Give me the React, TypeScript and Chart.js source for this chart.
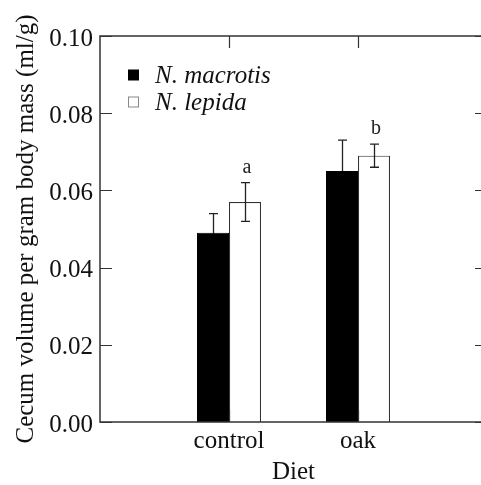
import React, { useEffect, useRef } from "react";
import { Chart, registerables } from "chart.js";

Chart.register(...registerables);

const categories = ["", "control", "oak", ""];
const macrotisValues = [null, 0.049, 0.065, null];
const lepidaValues = [null, 0.057, 0.069, null];
const macrotisErrors = [null, 0.005, 0.008, null];
const lepidaErrors = [null, 0.005, 0.003, null];
const lepidaLetters = [null, "a", "b", null];
const yMin = 0;
const yMax = 0.1;
const yStep = 0.02;

const SERIF = "'Liberation Serif', 'Times New Roman', serif";
const INK = "#222";

function drawErrors(chart: any, di: number) {
  const ctx = chart.ctx;
  const yScale = chart.scales.y;
  const errs = [macrotisErrors, lepidaErrors];
  const vals = [macrotisValues, lepidaValues];
  const meta = chart.getDatasetMeta(di);
  ctx.save();
  ctx.strokeStyle = INK;
  ctx.lineWidth = 1.3;
  meta.data.forEach((el: any, i: number) => {
    const v = vals[di][i];
    const e = errs[di][i];
    if (v == null || e == null) return;
    const x = Math.round(el.x) + 0.5;
    const yt = yScale.getPixelForValue(v + e);
    const yb = yScale.getPixelForValue(v - e);
    ctx.beginPath();
    ctx.moveTo(x, yt);
    ctx.lineTo(x, yb);
    ctx.moveTo(x - 4.5, yt);
    ctx.lineTo(x + 4.5, yt);
    ctx.moveTo(x - 4.5, yb);
    ctx.lineTo(x + 4.5, yb);
    ctx.stroke();
    if (di === 1 && lepidaLetters[i]) {
      ctx.fillStyle = INK;
      ctx.font = `20px ${SERIF}`;
      ctx.textAlign = "center";
      ctx.textBaseline = "alphabetic";
      ctx.fillText(lepidaLetters[i] as string, el.x + 2, yt - 10);
    }
  });
  ctx.restore();
}

const errorPlugin = {
  id: "errorBars",
  beforeDatasetsDraw(chart: any) {
    drawErrors(chart, 0);
  },
  afterDatasetsDraw(chart: any) {
    drawErrors(chart, 1);
  },
  afterDraw(chart: any) {
    const ctx = chart.ctx;
    const { left, right, top, bottom } = chart.chartArea;
    const yScale = chart.scales.y;
    const xScale = chart.scales.x;
    ctx.save();
    ctx.strokeStyle = "#333";
    ctx.lineWidth = 1.5;
    ctx.beginPath();
    ctx.moveTo(left, top);
    ctx.lineTo(right, top);
    ctx.lineTo(right, bottom);
    ctx.lineTo(left, bottom);
    ctx.closePath();
    ctx.stroke();
    ctx.lineWidth = 1.2;
    yScale.ticks.forEach((t: any) => {
      const y = Math.round(yScale.getPixelForValue(t.value)) + 0.5;
      ctx.beginPath();
      ctx.moveTo(left, y);
      ctx.lineTo(left + 12, y);
      ctx.moveTo(right, y);
      ctx.lineTo(right - 12, y);
      ctx.stroke();
    });
    categories.forEach((c, i) => {
      if (!c) return;
      const x = Math.round(xScale.getPixelForValue(i)) + 0.5;
      ctx.beginPath();
      ctx.moveTo(x, top);
      ctx.lineTo(x, top + 12);
      ctx.moveTo(x, bottom);
      ctx.lineTo(x, bottom - 12);
      ctx.stroke();
    });
    // legend
    const rows = [83, 110];
    chart.data.datasets.forEach((ds: any, di: number) => {
      const base = rows[di];
      ctx.fillStyle = ds.backgroundColor;
      ctx.strokeStyle = di === 0 ? "#000" : "#888";
      ctx.lineWidth = 1;
      const sy = base - 13;
      ctx.fillRect(128.5, sy, 10, 10);
      ctx.strokeRect(128.5, sy, 10, 10);
      ctx.fillStyle = "#111";
      ctx.font = `italic 25px ${SERIF}`;
      ctx.textAlign = "left";
      ctx.textBaseline = "alphabetic";
      ctx.fillText(ds.label, 155, base);
    });
    ctx.restore();
  },
};

export default function App() {
  const ref = useRef<HTMLCanvasElement>(null);
  useEffect(() => {
    document.body.style.margin = "0";
    const chart = new Chart(ref.current as HTMLCanvasElement, {
      type: "bar",
      data: {
        labels: categories,
        datasets: [
          {
            label: "N. macrotis",
            data: macrotisValues as any,
            backgroundColor: "#000",
            borderColor: "#000",
            borderWidth: 1,
          },
          {
            label: "N. lepida",
            data: lepidaValues as any,
            backgroundColor: "#fff",
            borderColor: "#333",
            borderWidth: 1.2,
          },
        ],
      },
      options: {
        animation: false,
        responsive: false,
        maintainAspectRatio: false,
        layout: { padding: { top: 36, right: 13, bottom: 0, left: 0 } },
        datasets: { bar: { categoryPercentage: 64 / 129, barPercentage: 1 } },
        plugins: { legend: { display: false }, tooltip: { enabled: false } },
        scales: {
          x: {
            type: "category",
            offset: false,
            grid: { display: false, drawTicks: false },
            border: { display: false },
            ticks: {
              color: "#111",
              font: { family: SERIF, size: 25, lineHeight: 1.2 },
              padding: 4,
              autoSkip: false,
              maxRotation: 0,
            },
            title: {
              display: true,
              text: "Diet",
              color: "#111",
              font: { family: SERIF, size: 25, lineHeight: 1 },
              padding: { top: 0, bottom: 0 },
            },
            afterFit: (s: any) => {
              s.height = 63;
            },
          },
          y: {
            min: yMin,
            max: yMax,
            grid: { display: false, drawTicks: false },
            border: { display: false },
            ticks: {
              stepSize: yStep,
              color: "#111",
              font: { family: SERIF, size: 25 },
              padding: 7,
              labelOffset: 3,
              callback: (v: any) => Number(v).toFixed(2),
            },
            title: {
              display: true,
              text: "Cecum volume per gram body mass (ml/g)",
              color: "#111",
              font: { family: SERIF, size: 25, lineHeight: 1 },
              padding: { top: 14, bottom: 0 },
            },
            afterFit: (s: any) => {
              s.width = 100;
            },
          },
        },
      },
      plugins: [errorPlugin],
    });
    return () => chart.destroy();
  }, []);
  return (
    <div style={{ position: "fixed", left: 0, top: 0, width: 481, height: 485, overflow: "hidden", background: "#fff" }}>
      <canvas ref={ref} width={500} height={485} style={{ display: "block" }} />
    </div>
  );
}
